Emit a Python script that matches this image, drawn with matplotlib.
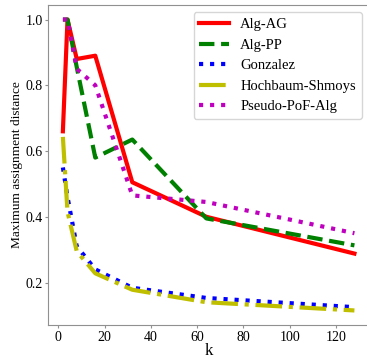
import matplotlib
matplotlib.use("Agg")
import matplotlib.pyplot as plt

k = [2, 4, 8, 16, 32, 64, 128]
alg_ag = [0.66, 1.0, 0.88, 0.89, 0.505, 0.40, 0.288]
alg_pp = [1.0, 1.0, 0.855, 0.58, 0.635, 0.395, 0.313]
gonzalez = [0.55, 0.46, 0.31, 0.24, 0.184, 0.153, 0.125]
hochbaum = [0.643, 0.415, 0.295, 0.228, 0.178, 0.14, 0.115]
pseudo = [1.0, 1.0, 0.85, 0.80, 0.465, 0.445, 0.35]

plt.rcParams['font.family'] = ['Liberation Serif', 'DejaVu Serif']
plt.rcParams['font.size'] = 10.5

fig = plt.figure(figsize=(3.67, 3.6), dpi=100)
W, H = 367.0, 360.0
left, right, top, bottom = 48.3, 369.0, 5.0, 325.0
ax = fig.add_axes([left / W, 1 - bottom / H, (right - left) / W, (bottom - top) / H])

lw = 3
ax.plot(k, alg_ag, color='r', linestyle='-', lw=lw, label='Alg-AG')
ax.plot(k, alg_pp, color='g', linestyle='--', lw=lw, label='Alg-PP')
ax.plot(k, gonzalez, color='b', linestyle=':', lw=lw, label='Gonzalez')
ax.plot(k, hochbaum, color='y', linestyle='-.', lw=lw, label='Hochbaum-Shmoys')
ax.plot(k, pseudo, color='m', linestyle=':', lw=lw, label='Pseudo-PoF-Alg')

ax.set_xlabel('k', fontsize=12)
ax.xaxis.set_label_coords(0.5, -0.057)
ax.set_ylabel('Maximum assignment distance', fontsize=9.6)
ax.yaxis.set_label_coords(-0.078, 0.5)
ax.set_xticks([0, 20, 40, 60, 80, 100, 120])
ax.set_yticks([0.2, 0.4, 0.6, 0.8, 1.0])
for s in ax.spines.values():
    s.set_color('#909090')
ax.tick_params(colors='#909090', labelcolor='black', length=2.5, pad=1.5, labelsize=10)
ax.legend(loc='upper right', fontsize=10.5)

fig.savefig('out.png', dpi=100)
